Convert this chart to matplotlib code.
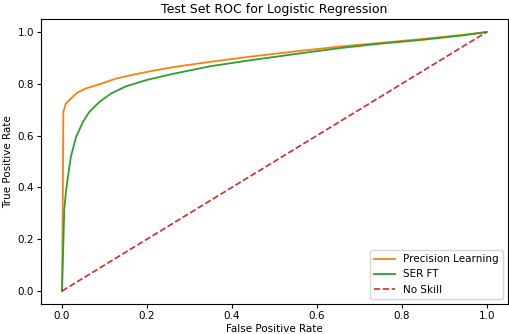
import matplotlib
matplotlib.use("Agg")
import matplotlib.pyplot as plt

# ROC points
pl_fpr = [0, 0.002, 0.003, 0.009, 0.021, 0.035, 0.056, 0.088, 0.127, 0.17, 0.21,
          0.26, 0.35, 0.444, 0.55, 0.655, 0.75, 0.85, 0.95, 1.0]
pl_tpr = [0, 0.4, 0.69, 0.724, 0.743, 0.765, 0.782, 0.798, 0.82, 0.836, 0.849,
          0.864, 0.885, 0.905, 0.925, 0.944, 0.958, 0.973, 0.99, 1.0]

ser_fpr = [0, 0.005, 0.005, 0.009, 0.013, 0.021, 0.033, 0.049, 0.064, 0.088, 0.115,
           0.15, 0.2, 0.26, 0.35, 0.444, 0.55, 0.655, 0.75, 0.85, 0.95, 1.0]
ser_tpr = [0, 0.30, 0.31, 0.38, 0.43, 0.52, 0.594, 0.652, 0.691, 0.73, 0.762,
           0.79, 0.815, 0.838, 0.868, 0.891, 0.915, 0.938, 0.955, 0.970, 0.988, 1.0]

ns_fpr = [0, 1]
ns_tpr = [0, 1]

plt.rcParams['font.size'] = 7.5

fig = plt.figure(figsize=(5.1, 3.34), dpi=100)
ax = fig.add_axes([0.080, 0.090, 0.916, 0.853])

ax.plot(pl_fpr, pl_tpr, color='tab:orange', lw=1.3, label='Precision Learning')
ax.plot(ser_fpr, ser_tpr, color='tab:green', lw=1.3, label='SER FT')
ax.plot(ns_fpr, ns_tpr, color='tab:red', ls='--', lw=1.2, label='No Skill')

ax.set_xticks([0.0, 0.2, 0.4, 0.6, 0.8, 1.0])
ax.set_yticks([0.0, 0.2, 0.4, 0.6, 0.8, 1.0])
ax.set_xlabel('False Positive Rate', labelpad=2)
ax.set_ylabel('True Positive Rate', labelpad=3)
ax.set_title('Test Set ROC for Logistic Regression', fontsize=9, pad=4)
ax.tick_params(length=3, pad=2)
ax.legend(loc='lower right', fontsize=7.5)

fig.savefig('out.png', dpi=100)
